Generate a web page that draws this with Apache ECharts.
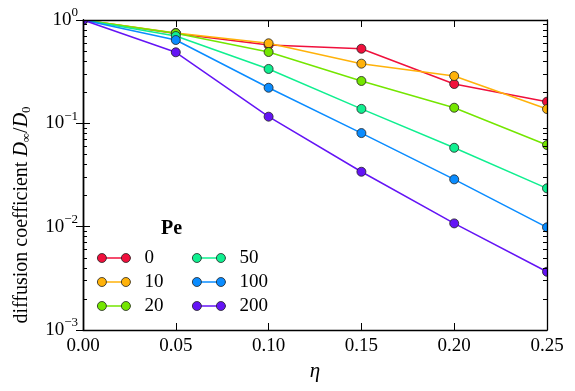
<!DOCTYPE html>
<html>
<head>
<meta charset="utf-8">
<script src="https://cdn.jsdelivr.net/npm/echarts@6/dist/echarts.min.js"></script>
<style>
html, body { margin: 0; padding: 0; background: #fff; }
#main { width: 575px; height: 391px; }
</style>
</head>
<body>
<div id="main"></div>
<script>
// volume fraction eta and D_inf/D_0 for each Peclet number
var eta = [0, 0.05, 0.10, 0.15, 0.20, 0.25];
var peNames = ['0', '10', '20', '50', '100', '200'];
var pe0   = [1, 0.74, 0.573, 0.527, 0.240, 0.162];
var pe10  = [1, 0.75, 0.595, 0.378, 0.287, 0.1375];
var pe20  = [1, 0.745, 0.49, 0.257, 0.1416, 0.0617];
var pe50  = [1, 0.70, 0.336, 0.138, 0.058, 0.0235];
var pe100 = [1, 0.64, 0.221, 0.0805, 0.0287, 0.00985];
var pe200 = [1, 0.487, 0.116, 0.034, 0.01076, 0.00366];
var xTicks = [0, 0.05, 0.10, 0.15, 0.20, 0.25];
var yMinor = [];
[0.001, 0.01, 0.1].forEach(function (d) {
    for (var k = 2; k <= 9; k++) yMinor.push(+(d * k).toPrecision(3));
});

var colors = ['#f0103c', '#ffb20a', '#74e600', '#10ef90', '#0a8cff', '#6414f5'];
var allData = [pe0, pe10, pe20, pe50, pe100, pe200];

var FONT = 'Liberation Serif';
var gridL = 83, gridR = 28, gridT = 20, gridB = 61;

var myChart = echarts.init(document.getElementById('main'));

function powLabel(v) {
    var e = Math.round(Math.log(v) / Math.LN10);
    var s = e < 0 ? '\u2212' + (-e) : '' + e;
    return '{b|10}{s|' + s + '}';
}
var powRich = {
    b: { fontFamily: FONT, fontSize: 19, color: '#000' },
    s: { fontFamily: FONT, fontSize: 13, color: '#000', padding: [0, 0, 14, 0] }
};

var axisLine = { show: true, lineStyle: { color: '#000', width: 1.3 } };

function yAxisDef(pos, minor) {
    return {
        type: 'log', logBase: 10, min: 0.001, max: 1,
        position: pos, z: 5,
        axisLine: axisLine,
        splitLine: { show: false },
        axisTick: minor
            ? { inside: true, length: 4, customValues: yMinor, lineStyle: { color: '#000', width: 1 } }
            : { inside: true, length: 7, lineStyle: { color: '#000', width: 1 } },
        axisLabel: (pos === 'left' && !minor)
            ? { formatter: powLabel, rich: powRich, margin: 5 }
            : { show: false }
    };
}

var series = [];
for (var i = 0; i < peNames.length; i++) {
    series.push({
        name: peNames[i],
        type: 'line',
        xAxisIndex: 0,
        yAxisIndex: 0,
        data: eta.map(function (x, j) { return [x, allData[i][j]]; }),
        symbol: 'circle',
        symbolSize: 9,
        color: colors[i],
        lineStyle: { width: 1.5, color: colors[i] },
        itemStyle: { color: colors[i], borderColor: '#222', borderWidth: 0.8 },
        emphasis: { disabled: true },
        z: 2 + i * 0.01
    });
}

var legendBase = {
    orient: 'vertical',
    padding: 0,
    top: 248,
    itemWidth: 33,
    itemHeight: 9,
    itemGap: 4,
    selectedMode: false
};
var twoDots = 'path://M0,4.5a4.5,4.5 0 1,0 9,0a4.5,4.5 0 1,0 -9,0zM24,4.5a4.5,4.5 0 1,0 9,0a4.5,4.5 0 1,0 -9,0z';
function legendLayer(names, left, dots) {
    var l = Object.assign({}, legendBase, { data: names, left: left });
    if (dots) {
        l.icon = twoDots;
        l.itemStyle = { borderColor: '#222', borderWidth: 0.8 };
        l.textStyle = { fontFamily: FONT, fontSize: 19, lineHeight: 20, color: '#000', padding: [0, 0, 0, 9] };
    } else {
        l.itemStyle = { opacity: 0 };
        l.lineStyle = { width: 1.5 };
        l.textStyle = { fontFamily: FONT, fontSize: 19, lineHeight: 20, color: 'rgba(0,0,0,0)', padding: [0, 0, 0, 9] };
    }
    return l;
}

option = {
    animation: false,
    backgroundColor: '#fff',
    title: {
        text: 'Pe',
        left: 161,
        top: 219,
        padding: 0,
        textStyle: { fontFamily: FONT, fontSize: 20, fontWeight: 'bold', color: '#000' }
    },
    legend: [
        legendLayer(peNames.slice(0, 3), 97, false),
        legendLayer(peNames.slice(3), 192, false),
        legendLayer(peNames.slice(0, 3), 97, true),
        legendLayer(peNames.slice(3), 192, true)
    ],
    grid: { left: gridL, right: gridR, top: gridT, bottom: gridB, containLabel: false },
    xAxis: [
        {
            type: 'value', min: 0, max: 0.25, interval: 0.05, position: 'bottom', z: 5,
            name: '\u03b7',
            nameLocation: 'middle',
            nameGap: 31,
            nameTextStyle: { fontFamily: FONT, fontSize: 21, fontStyle: 'italic', color: '#000' },
            axisLine: axisLine,
            splitLine: { show: false },
            axisTick: { inside: true, length: 7, lineStyle: { color: '#000', width: 1 } },
            axisLabel: {
                margin: 7,
                fontFamily: FONT, fontSize: 19, color: '#000',
                customValues: xTicks,
                formatter: function (v) { return v.toFixed(2); }
            }
        },
        {
            type: 'value', min: 0, max: 0.25, interval: 0.05, position: 'top', z: 5,
            axisLine: axisLine,
            splitLine: { show: false },
            axisTick: { inside: true, length: 7, lineStyle: { color: '#000', width: 1 } },
            axisLabel: { show: false }
        }
    ],
    yAxis: [
        yAxisDef('left', false),
        yAxisDef('right', false),
        yAxisDef('left', true),
        yAxisDef('right', true)
    ],
    graphic: [
        { type: 'rect', z: 3, silent: true, shape: { x: 0, y: 0, width: gridL, height: 391 }, style: { fill: '#fff' } },
        { type: 'rect', z: 3, silent: true, shape: { x: 575 - gridR, y: 0, width: gridR, height: 391 }, style: { fill: '#fff' } },
        { type: 'rect', z: 3, silent: true, shape: { x: 0, y: 0, width: 575, height: gridT }, style: { fill: '#fff' } },
        // y axis title
        {
            type: 'text', z: 6, silent: true,
            x: 22, y: 215, rotation: Math.PI / 2,
            style: {
                text: 'diffusion coefficient {i|D}{sub|\u221e}/{i|D}{sub|0}',
                fontFamily: FONT, fontSize: 20, fill: '#000',
                align: 'center', verticalAlign: 'middle',
                rich: {
                    i: { fontFamily: FONT, fontSize: 20, fontStyle: 'italic', fill: '#000' },
                    sub: { fontFamily: FONT, fontSize: 13, fill: '#000', padding: [9, 0, 0, 0] }
                }
            }
        }
    ],
    series: series
};
myChart.setOption(option);
</script>
</body>
</html>
